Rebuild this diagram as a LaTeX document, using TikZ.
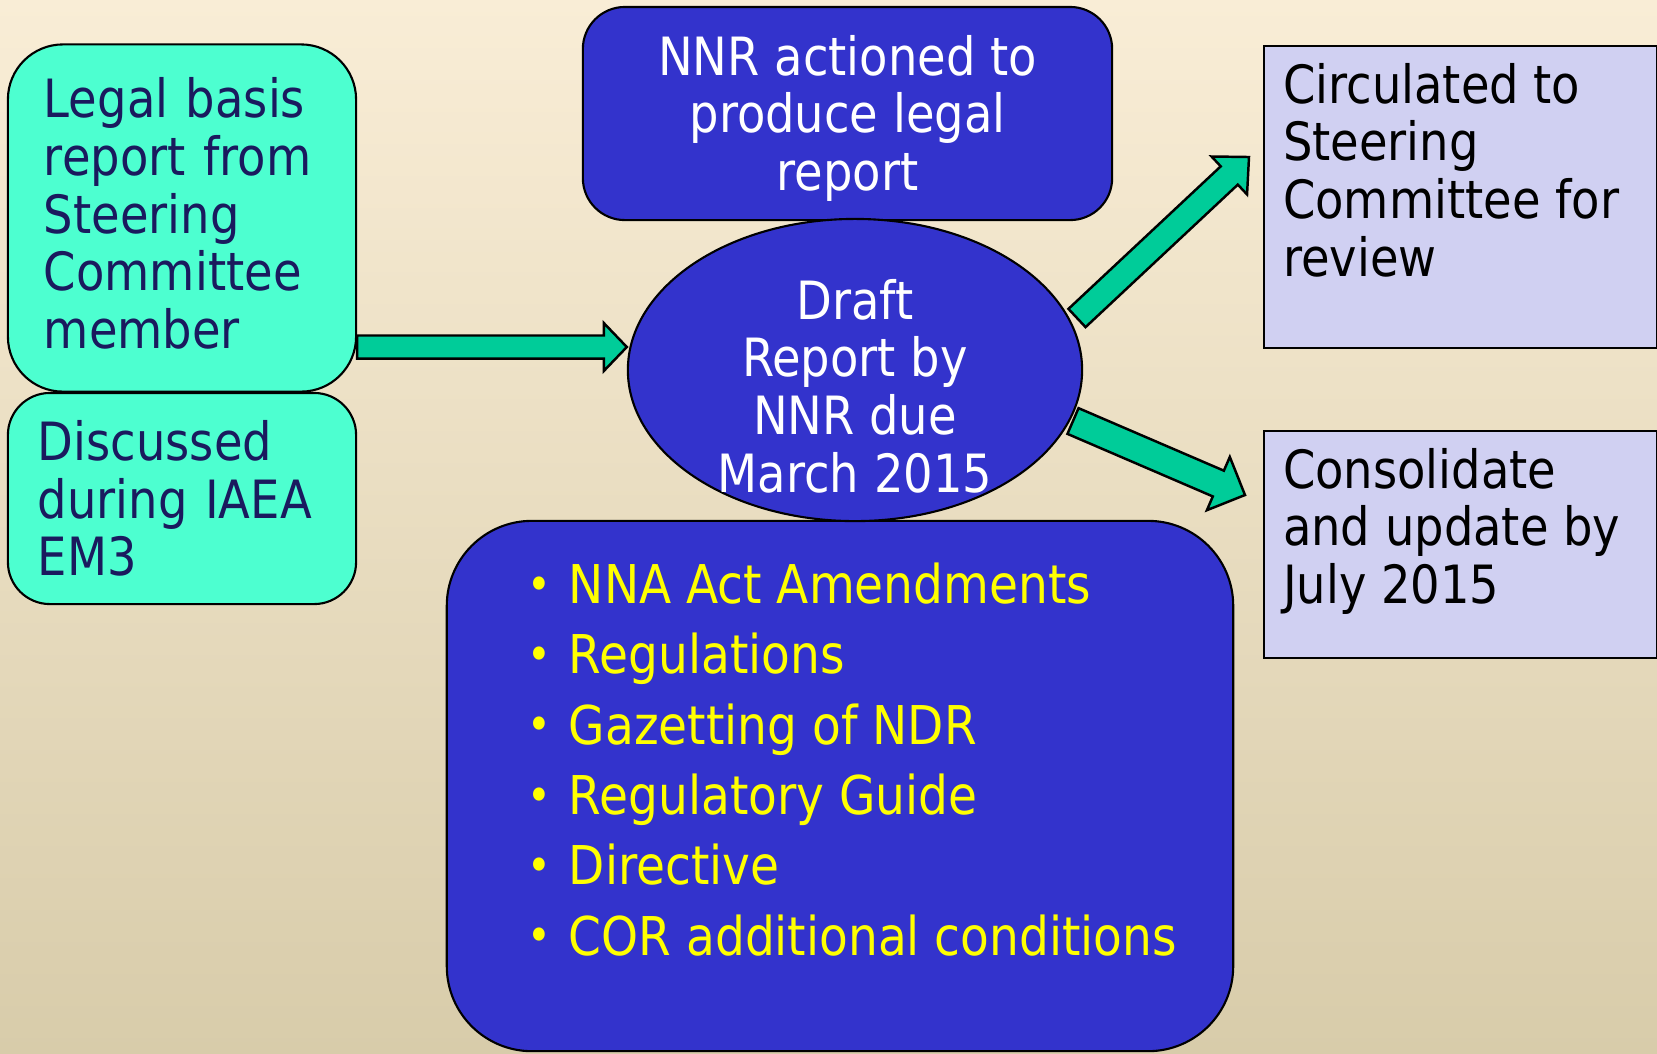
\documentclass[tikz,border=0pt]{standalone}
\usepackage{fontspec}
\setmainfont{DejaVu Sans}[FakeStretch=0.88]
\usetikzlibrary{shapes.geometric,calc}

\definecolor{bgtop}{RGB}{249,237,214}
\definecolor{bgmid}{RGB}{243,234,213}
\definecolor{bgbot}{RGB}{216,204,170}
\definecolor{aqua}{RGB}{77,255,208}
\definecolor{navytext}{RGB}{26,26,94}
\definecolor{royal}{RGB}{51,51,204}
\definecolor{lavender}{RGB}{208,208,242}
\definecolor{arrowgreen}{RGB}{0,204,153}
\definecolor{bullety}{RGB}{255,255,0}

% block arrow: from, to, half shaft, half head, head length
\newcommand{\blockarrow}[5]{%
  \coordinate (ba) at ($(#2)!#5!(#1)$);
  \draw[blockarr] ($(#1)!#3!90:(#2)$) -- ($(ba)!#3!90:(#2)$) -- ($(ba)!#4!90:(#2)$) -- (#2)
    -- ($(ba)!#4!-90:(#2)$) -- ($(ba)!#3!-90:(#2)$) -- ($(#1)!#3!-90:(#2)$) -- cycle;
}
% text held at the top of a box
\newcommand{\topfill}[3]{\parbox[c][#1][t]{#2}{\raggedright #3}}
\newcommand{\bitem}[1]{\mbox{\makebox[0.32cm][l]{\hspace{-0.09cm}\raisebox{0.06em}{\fontsize{13}{13}\selectfont\textbullet}}#1}}

\begin{document}
\begin{tikzpicture}[x=0.01cm, y=-0.01cm,
    every node/.style={font=\fontsize{15}{16.4}\selectfont},
    greenbox/.style={draw, line width=0.6pt, fill=aqua, text=navytext, align=left, inner sep=0},
    bluebox/.style={draw, line width=0.6pt, fill=royal, text=white, align=center, rounded corners=0.42cm},
    lavbox/.style={draw, line width=0.6pt, fill=lavender, text=black, anchor=north west,
      inner xsep=0.19cm, inner ysep=0.17cm},
    blockarr/.style={draw, line width=0.7pt, fill=arrowgreen, line join=miter}]

    % background
    \shade[top color=bgtop, middle color=bgmid, bottom color=bgbot] (0,0) rectangle (1657,1053);
    \useasboundingbox (0,0) rectangle (1657,1053);

    % left boxes
    \node[greenbox, rounded corners=0.55cm, minimum width=3.48cm, minimum height=3.47cm, text width=2.76cm]
      (legal) at (182,218) {Legal basis\\report from\\Steering\\Committee\\member\\[-13.6pt]\mbox{}};
    \node[greenbox, rounded corners=0.42cm, minimum width=3.48cm, minimum height=2.11cm, text width=2.88cm]
      (discussed) at (182,498.5) {Discussed\\during IAEA\\EM3};

    % middle column
    \node[bluebox, minimum width=5.29cm, minimum height=2.13cm] (nnr) at (847.5,113.5)
      {\\[-0.08cm]NNR actioned to\\produce legal\\report};
    \node[bluebox, rounded corners=0.85cm, text=bullety, inner xsep=0.9cm, inner ysep=0.42cm,
      font=\fontsize{15.2}{20}\selectfont] (items) at (840,786)
      {\topfill{4.46cm}{6.06cm}{\bitem{NNA Act Amendments}\\ \bitem{Regulations}\\
        \bitem{Gazetting of NDR}\\ \bitem{Regulatory Guide}\\ \bitem{Directive}\\
        \bitem{COR additional conditions}}};
    \node[ellipse, draw, line width=0.6pt, fill=royal, minimum width=4.54cm, minimum height=3.02cm,
      inner sep=0] (draft) at (855,370) {};
    \node[text=white, align=center] (draftlbl) at (855,386) {Draft\\Report by\\NNR due\\March 2015};

    % right boxes
    \node[lavbox] (circ) at (1263,45)
      {\topfill{2.68cm}{3.55cm}{Circulated to\\Steering\\Committee for\\review}};
    \node[lavbox] (consol) at (1263,430)
      {\topfill{1.93cm}{3.55cm}{Consolidate\\and update by\\July 2015}};

    % arrows
    \coordinate (a1s) at (legal.east |- 0,347);
    \coordinate (a1e) at (draft.west |- 0,347);
    \blockarrow{a1s}{a1e}{0.115cm}{0.24cm}{0.23cm}
    \coordinate (a2s) at (1077,318);
    \coordinate (a2e) at (1249,157);
    \blockarrow{a2s}{a2e}{0.125cm}{0.26cm}{0.27cm}
    \coordinate (a3s) at (1073,421);
    \coordinate (a3e) at (1245,495);
    \blockarrow{a3s}{a3e}{0.14cm}{0.29cm}{0.29cm}
\end{tikzpicture}
\end{document}
